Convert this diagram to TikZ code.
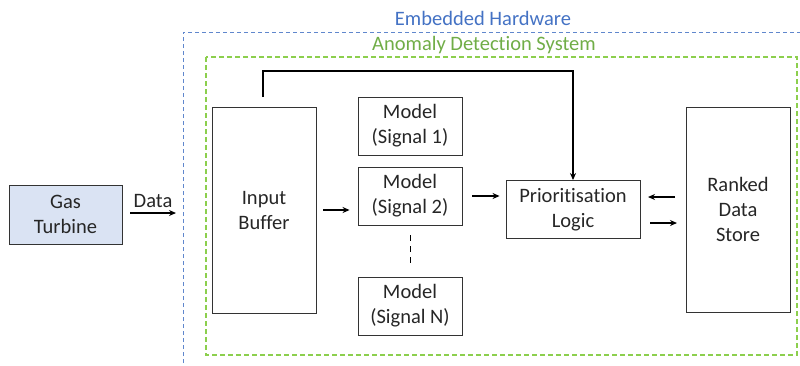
\documentclass[tikz,border=0pt]{standalone}
\usepackage{fontspec}
\setmainfont{Carlito}[Ligatures={NoCommon,NoRare}]
\usetikzlibrary{arrows.meta}
\definecolor{hwblue}{HTML}{4472C4}
\definecolor{adsgreen}{HTML}{70AD47}
\definecolor{adsline}{HTML}{8CCF4D}
\definecolor{turbfill}{HTML}{DAE3F3}
\begin{document}
\begin{tikzpicture}[x=1pt,y=-1pt,
  blk/.style={draw=black!80,line width=0.9pt,align=center,font=\fontsize{20.5}{25}\selectfont,inner sep=0pt,text=black!85},
  arr/.style={line width=1.6pt,-{Stealth[length=7pt,width=6pt]}},
  lbl/.style={font=\fontsize{20.5}{25}\selectfont}]
\useasboundingbox (0,0) rectangle (800,365);
% containers
\draw[hwblue!85,line width=0.9pt,dash pattern=on 4pt off 3pt] (183,370) -- (183,32) -- (805,32);
\node[lbl,text=hwblue] (hwl) at (483,18) {Embedded Hardware};
\draw[adsline,line width=1.2pt,dash pattern=on 5pt off 3pt] (206,57) rectangle (797,355);
\node[lbl,text=adsgreen] (adsl) at (484,45) {Anomaly Detection System};
% blocks
\node[blk,fill=turbfill,minimum width=113pt,minimum height=59pt] (gt) at (65.5,214.5) {Gas\\Turbine};
\node[blk,minimum width=104pt,minimum height=206pt] (ib) at (264,210) {Input\\Buffer};
\node[blk,minimum width=104pt,minimum height=58pt] (m1) at (410,126) {Model\\(Signal 1)};
\node[blk,minimum width=104pt,minimum height=58pt] (m2) at (410,196) {Model\\(Signal 2)};
\node[blk,minimum width=104pt,minimum height=58pt] (mn) at (410,306) {Model\\(Signal N)};
\node[blk,minimum width=134pt,minimum height=58pt] (pl) at (573,209.5) {Prioritisation\\Logic};
\node[blk,minimum width=104pt,minimum height=205pt] (rd) at (738,209.5) {Ranked\\Data\\Store};
% connectors
\coordinate (din) at (176,213);
\draw[arr] (gt.east) ++(8,-1.5) coordinate (dout) -- (din);
\node[lbl,anchor=south,text=black!85] (dl) at (153,211) {Data};
\draw[arr] (ib.east) ++(7,0) -- ([xshift=-8pt]m2.west|-ib.east);
\draw[arr] ([xshift=10pt]m2.east) -- ([xshift=-6pt]pl.west|-m2.east);
\draw[line width=1pt,dash pattern=on 6pt off 5pt] ([yshift=-10pt]m2.south) -- ([yshift=12pt]mn.north);
\coordinate (fbs) at (263,97);
\draw[line width=1.6pt,-{Stealth[length=7pt,width=6pt]}] (fbs) -- (263,71) -- (573,71) -- (pl.north);
\draw[arr] (675,197) -- (648,197);
\draw[arr] (650,223) -- (677,223);
\end{tikzpicture}
\end{document}
